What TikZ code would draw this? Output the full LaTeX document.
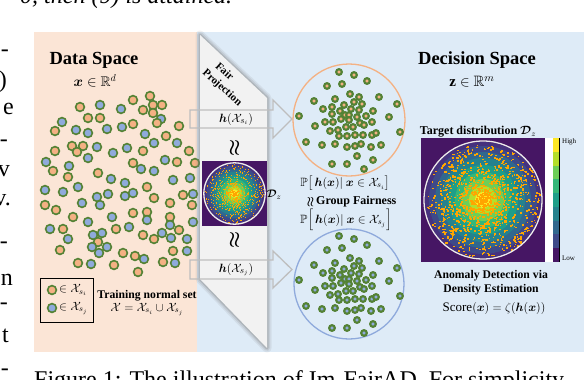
\documentclass[tikz,border=0pt]{standalone}
\usepackage{amsmath,amssymb}
\usepackage{fontspec}
\setmainfont{Liberation Serif}
\usepackage{graphicx}
\definecolor{peach}{RGB}{251,229,214}
\definecolor{lblue}{RGB}{222,235,247}
\definecolor{projfill}{RGB}{242,242,242}
\definecolor{arrgray}{RGB}{190,190,190}
\definecolor{dgreen}{RGB}{84,130,53}
\definecolor{dorange}{RGB}{244,177,131}
\definecolor{dblue}{RGB}{143,170,220}
\definecolor{vbg}{RGB}{70,22,100}
\definecolor{v1}{RGB}{70,50,126}
\definecolor{v2}{RGB}{62,74,137}
\definecolor{v3}{RGB}{49,104,142}
\definecolor{v4}{RGB}{38,130,142}
\definecolor{v5}{RGB}{31,158,137}
\definecolor{v6}{RGB}{53,183,121}
\definecolor{v7}{RGB}{110,206,88}
\definecolor{v8}{RGB}{181,222,43}
\definecolor{v9}{RGB}{253,231,37}
\definecolor{speck}{RGB}{255,165,0}
\newcommand\fs[1]{\fontsize{#1}{#1}\selectfont}
\newcommand\rapprox[1]{\rotatebox[origin=c]{90}{\scalebox{#1}{$\boldsymbol{\approx}$}}}
\newcommand\DensPlot[4]{%
\begin{scope}[shift={(#1,#2)},scale=#3]
\fill[vbg] (-62,-62) rectangle (62,62);
\fill[v1] (0,0) circle (58);
\fill[v2] (0,0) circle (54);
\fill[v3] (0,0) circle (48);
\fill[v4] (0,0) circle (42);
\fill[v5] (0,0) circle (35);
\fill[v6] (0,0) circle (28);
\fill[v7] (0,0) circle (21);
\fill[v8] (0,0) circle (14);
\fill[v9] (0,0) circle (8);
\foreach \k in {1,...,#4}{\pgfmathsetmacro\rr{57*rnd^0.9}\pgfmathsetmacro\aa{360*rnd}\fill[speck] (\aa:\rr) rectangle ++(1.7,1.4);}
\draw[white!85!gray, line width=1.3] (0,0) circle (59);
\end{scope}}
\tikzset{
  doto/.style={draw=dgreen, line width=1.6, fill=dorange},
  dotb/.style={draw=dgreen, line width=1.6, fill=dblue},
  cdoto/.style={draw=dgreen, line width=2.2, fill=dorange},
  cdotb/.style={draw=dgreen, line width=2.2, fill=dblue},
  blockarrow/.style={draw=arrgray, line width=1.3},
  lbl/.style={inner sep=0pt},
  boldlbl/.style={inner sep=0pt, font=\bfseries\fs{11.7}},
  papertxt/.style={inner sep=0pt, font=\fs{24}},
}
\begin{document}
\begin{tikzpicture}[x=1pt,y=-1pt]
\useasboundingbox (0,0) rectangle (584,380);
\clip (0,0) rectangle (584,380);
\pgfmathsetseed{11}
% panels
\fill[peach] (34,32) rectangle (197,352);
\fill[lblue] (197,32) rectangle (584,352);
% data dots
\foreach \x/\y/\c in {80/107/o, 100/105/b, 121/109/b, 133/100/o, 150/96/o, 162/105/o, 153/105/o, 143/110/o, 153/113/o, 161/119/b, 157/123/o, 88/118/o, 100/118/o, 62/122/b, 55/131/o, 76/130/b, 88/133/b, 107/129/b, 122/127/b, 133/124/o, 179/126/o, 145/134/b, 166/136/o, 154/143/b, 177/143/b, 189/151/o, 55/151/o, 72/146/o, 83/146/o, 77/152/o, 97/147/b, 113/153/b, 127/148/b, 143/151/o, 88/158/b, 46/162/b, 53/171/o, 69/166/b, 68/177/o, 98/173/o, 111/179/b, 133/163/o, 141/169/b, 154/171/b, 165/160/b, 177/162/o, 173/180/b, 190/178/b, 195/163/o, 147/187/o, 125/183/b,
45/205/o, 56/210/o, 82/203/b, 100/205/b, 97/197/b, 108/194/b, 125/196/b, 133/193/b, 154/198/o, 170/203/o, 183/195/o, 192/205/o, 193/194/b, 73/217/o, 88/222/b, 112/217/b, 133/213/o, 147/212/o, 147/220/b, 170/217/o, 170/225/b, 179/230/o, 193/222/b, 50/229/b, 63/229/o, 68/239/b, 116/229/o, 129/227/b, 143/235/o, 154/239/o, 162/233/b, 171/238/b, 187/239/b, 93/235/b, 102/233/b, 98/242/o, 92/247/b, 107/247/b, 99/253/b, 60/250/o, 123/253/o, 135/256/o, 144/259/b, 173/251/o, 187/251/b, 78/263/o, 91/264/b, 114/265/o, 163/262/o, 175/263/b, 138/272/o, 45/190/b, 63/192/b, 78/187/b}
  \draw[dot\c] (\x,\y) circle (4.4);
% data texts
\node[lbl, font=\bfseries\fs{18.5}] (dstitle) at (94,60) {Data Space};
\node[lbl, font=\fs{14}] (dsvar) at (95,81) {$\boldsymbol{x}\in\mathbb{R}^d$};
\node[draw=black, line width=1, minimum width=53, minimum height=44, inner sep=0] (legend) at (66.5,300) {};
\draw[doto] (52,290) circle (4.4);
\draw[dotb] (52,308) circle (4.4);
\node[lbl, anchor=west, font=\fs{12}] (leg1) at (59,290) {$\in\mathcal{X}_{s_i}$};
\node[lbl, anchor=west, font=\fs{12}] (leg2) at (59,308) {$\in\mathcal{X}_{s_j}$};
\node[boldlbl] (train) at (147,296) {Training normal set};
\node[lbl, font=\fs{12}] (trainset) at (147,309) {$\mathcal{X}=\mathcal{X}_{s_i}\cup\mathcal{X}_{s_j}$};
% projection
\coordinate (p1) at (200,35);
\coordinate (p2) at (267,98);
\coordinate (p3) at (267,348);
\coordinate (p4) at (200,279);
\foreach \w/\o in {9/0.12, 6/0.18, 3/0.3}
  \draw[gray, line width=\w, opacity=\o, line join=round] (p1) -- (p2) -- (p3) -- (p4) -- cycle;
\fill[projfill] (p1) -- (p2) -- (p3) -- (p4) -- cycle;
% arrows
\coordinate (a1s) at (190,119);
\coordinate (a1t) at (292,119);
\coordinate (a2s) at (190,269.5);
\coordinate (a2t) at (292,269.5);
\draw[blockarrow] (a1s) ++(0,-9) -- ++(83,0) -- ++(0,-10) -- (a1t) -- ++(-19,19) -- ++(0,-10) -- ++(-83,0) -- cycle;
\draw[blockarrow] (a2s) ++(0,-9.5) -- ++(83,0) -- ++(0,-9) -- (a2t) -- ++(-19,18.5) -- ++(0,-9) -- ++(-83,0) -- cycle;
\node[lbl, font=\fs{12.5}] (h1) at (236,119) {$\boldsymbol{h}(\mathcal{X}_{s_i})$};
\node[lbl, font=\fs{12.5}] (h2) at (236,269.5) {$\boldsymbol{h}(\mathcal{X}_{s_j})$};
\node[lbl, rotate=-42, font=\bfseries\fs{11}] (fair) at (225,71) {Fair};
\node[lbl, rotate=-42, font=\bfseries\fs{11}] (proj) at (222,88) {Projection};
\node[lbl, font=\fs{10}] (wr1) at (235,148) {\rapprox{1.9}};
\node[lbl, font=\fs{10}] (wr2) at (235,240) {\rapprox{1.9}};
\DensPlot{234.5}{193.5}{0.52}{600}
\node[lbl, font=\fs{11}] (dz) at (274,195) {$\boldsymbol{\mathcal{D}}_z$};
% circles
\draw[dorange, line width=1.3] (349,120) circle (56);
\draw[dblue, line width=1.3] (349,284) circle (55);
\foreach \cy/\st in {120/cdoto, 284/cdotb}{
\foreach \dx/\dy in {-10/-48, 5/-45, 18/-39, -22/-34, -7/-36, 1/-26, 10/-23, 30/-23, -14/-21, 5/-18, 13/-16, -35/-19, 48/-16, -26/-11, -17/-13, -5/-15, -9/-9, 2/-11, 10/-10, 24/-9, -50/-4, -17/-6, -4/-5, 0/-5, 8/-3, 17/-4, 40/-3, -24/2, -16/2, -8/-1, 0/0, 11/3, 15/5, 23/2, 51/12, -34/6, -19/11, -11/10, -3/7, 4/7, -10/16, -2/16, 6/15, 14/15, 23/15, 27/13, -43/22, -27/25, -14/24, -2/27, 6/26, 12/24, 22/27, 32/25, 8/36, 24/40, -17/44, -2/44, 15/49}
  \draw[\st] (349+\dx,\cy+\dy) circle (2.8);
}
\node[lbl, font=\fs{12}] (pi) at (345,183) {$\mathbb{P}\big[\,\boldsymbol{h}(\boldsymbol{x})|\ \boldsymbol{x}\in\mathcal{X}_{s_i}\big]$};
\node[lbl, font=\fs{12}] (gf) at (352,202) {{\fs{10}\rapprox{1.2}}\,\textbf{Group Fairness}};
\node[lbl, font=\fs{12}] (pj) at (346,220) {$\mathbb{P}\Big[\,\boldsymbol{h}(\boldsymbol{x})|\ \boldsymbol{x}\in\mathcal{X}_{s_j}\Big]$};
% decision space
\node[lbl, font=\bfseries\fs{18.5}] (dectitle) at (477,60) {Decision Space};
\node[lbl, font=\fs{15}] (decvar) at (472,82) {$\mathbf{z}\in\mathbb{R}^m$};
\node[boldlbl, font=\bfseries\fs{12}] (target) at (478,132) {Target distribution $\boldsymbol{\mathcal{D}}_z$};
\DensPlot{483}{200}{1}{1200}
\fill[white] (545,138) rectangle (553,262);
\foreach \i/\c in {0/v9,1/v8,2/v7,3/v6,4/v5,5/v4,6/v3,7/v2,8/vbg}
  \fill[\c] (553,138+\i*13.78) rectangle (559,138+\i*13.78+13.78);
\draw[black, line width=0.9] (559.5,138) -- (559.5,262);
\node[lbl, anchor=west, font=\fs{7}] (high) at (562,142) {High};
\node[lbl, anchor=west, font=\fs{7}] (low) at (562,258) {Low};
\node[boldlbl] (ad1) at (491,276) {Anomaly Detection via};
\node[boldlbl] (ad2) at (491,290) {Density Estimation};
\node[lbl, font=\fs{13}] (score) at (494,308) {Score$(\boldsymbol{x})=\zeta(\boldsymbol{h}(\boldsymbol{x}))$};
% surrounding paper text
\node[papertxt, anchor=base west, font=\itshape\fs{24}] (topline) at (20,4) {0, then (9) is attained.};
\node[papertxt, anchor=base west] (caption) at (34,387) {Figure 1: The illustration of Im-FairAD. For simplicity};
\foreach \yy/\tt/\xx in {56/-/9, 87/)/7, 114/e/14, 146/-/8, 176/v/10, 205/v./11, 248/-/8, 285/n/13, 309/-/8, 342/t/9, 375/-/9}
  \node[papertxt, anchor=base east] at (\xx,\yy) {\tt};
\end{tikzpicture}
\end{document}
